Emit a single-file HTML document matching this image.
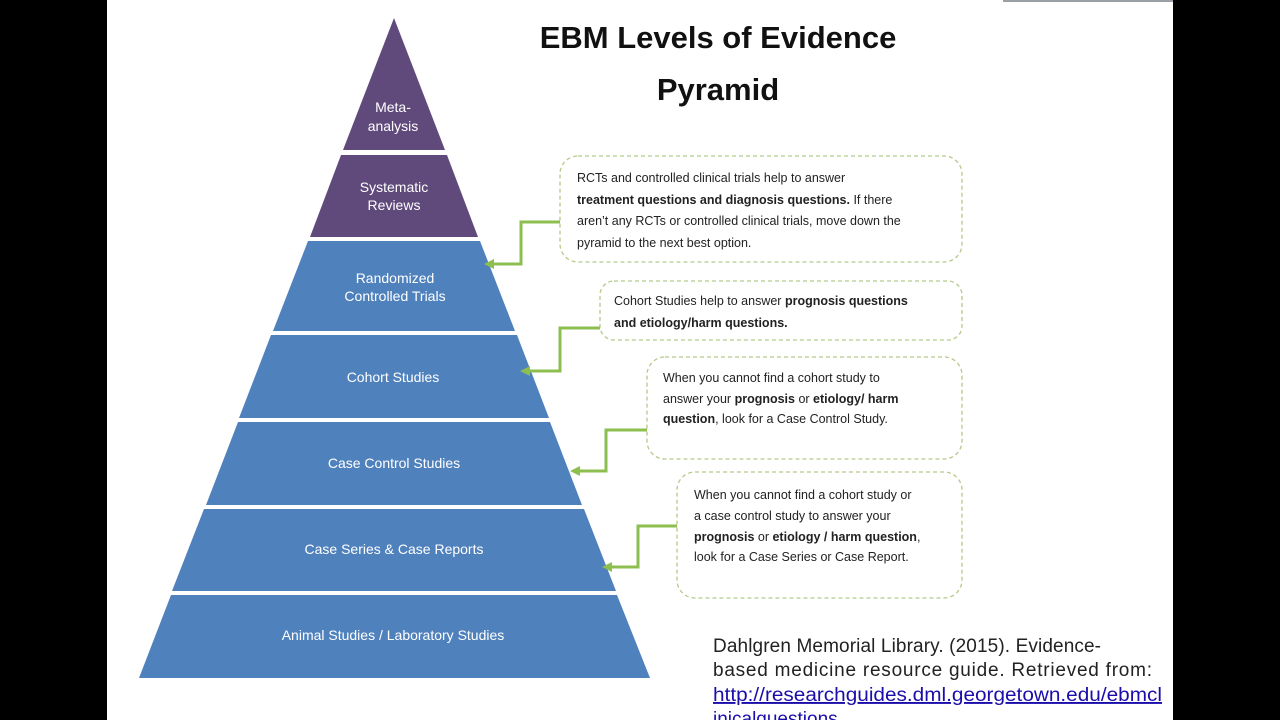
<!DOCTYPE html>
<html><head><meta charset="utf-8"><style>
body{margin:0;background:#000;}
svg{display:block;}
</style></head><body>
<svg width="1280" height="720" xmlns="http://www.w3.org/2000/svg" font-family="'Liberation Sans',sans-serif">
<rect x="0" y="0" width="1280" height="720" fill="#000"/>
<rect x="107" y="0" width="1066" height="720" fill="#fff"/>
<rect x="1003" y="0" width="170" height="2" fill="#9aa0a6"/>
<text x="718" y="48" font-size="31" font-weight="bold" text-anchor="middle" fill="#111">EBM Levels of Evidence</text>
<text x="718" y="100" font-size="31" font-weight="bold" text-anchor="middle" fill="#111">Pyramid</text>
<g>
<polygon points="394,18 445,150 343,150" fill="#604a7b"/>
<polygon points="341,155 447,155 478,237 310,237" fill="#604a7b"/>
<polygon points="308,241 480,241 515,331 273,331" fill="#4f81bd"/>
<polygon points="271,335 517,335 549,418 239,418" fill="#4f81bd"/>
<polygon points="238,422 550,422 582,505 206,505" fill="#4f81bd"/>
<polygon points="204,509 584,509 616,591 172,591" fill="#4f81bd"/>
<polygon points="171,595 617,595 650,678 139,678" fill="#4f81bd"/>
</g>
<g fill="#fff" font-size="14" text-anchor="middle">
<text x="393" y="112">Meta-</text><text x="393" y="131">analysis</text>
<text x="394" y="192">Systematic</text><text x="394" y="210">Reviews</text>
<text x="395" y="283">Randomized</text><text x="395" y="301">Controlled Trials</text>
<text x="393" y="382">Cohort Studies</text>
<text x="394" y="468">Case Control Studies</text>
<text x="394" y="554">Case Series &amp; Case Reports</text>
<text x="393" y="640">Animal Studies / Laboratory Studies</text>
</g>
<g fill="none" stroke="#b5c98a" stroke-width="1.3" stroke-dasharray="4,3">
<rect x="560" y="156" width="402" height="106" rx="18"/>
<rect x="600" y="281" width="362" height="59" rx="14"/>
<rect x="647" y="357" width="315" height="102" rx="18"/>
<rect x="677" y="472" width="285" height="126" rx="18"/>
</g>
<g fill="none" stroke="#8cbf4f" stroke-width="3">
<polyline points="560,222 521,222 521,264 492,264"/>
<polyline points="600,328 560,328 560,371 528,371"/>
<polyline points="647,430 606,430 606,471 578,471"/>
<polyline points="677,526 638,526 638,567 610,567"/>
</g>
<g fill="#8cbf4f">
<polygon points="484,264 494,259 494,269"/>
<polygon points="520,371 530,366 530,376"/>
<polygon points="570,471 580,466 580,476"/>
<polygon points="602,567 612,562 612,572"/>
</g>
<g font-size="12.5" fill="#222">
<text x="577" y="182">RCTs and controlled clinical trials help to answer</text>
<text x="577" y="204"><tspan font-weight="bold">treatment questions and diagnosis  questions.</tspan>  If there</text>
<text x="577" y="225">aren’t any RCTs or controlled clinical trials, move down the</text>
<text x="577" y="247">pyramid to the next best option.</text>
<text x="614" y="305">Cohort Studies help to answer <tspan font-weight="bold">prognosis questions</tspan></text>
<text x="614" y="327" font-weight="bold">and etiology/harm questions.</text>
<text x="663" y="382">When you cannot find a cohort study to</text>
<text x="663" y="403">answer your <tspan font-weight="bold">prognosis</tspan>  or <tspan font-weight="bold">etiology/ harm</tspan></text>
<text x="663" y="423"><tspan font-weight="bold">question</tspan>, look for a Case  Control Study.</text>
<text x="694" y="499">When you cannot find a cohort study or</text>
<text x="694" y="520">a case control study to answer your</text>
<text x="694" y="541"><tspan font-weight="bold">prognosis</tspan>  or <tspan font-weight="bold">etiology / harm question</tspan>,</text>
<text x="694" y="561">look for a Case Series or Case Report.</text>
</g>
<g font-size="19" fill="#222">
<text x="713" y="652" textLength="388" lengthAdjust="spacing">Dahlgren Memorial Library. (2015). Evidence-</text>
<text x="713" y="676" textLength="439" lengthAdjust="spacing">based medicine resource guide. Retrieved from:</text>
<text x="713" y="701" fill="#1a0dab" text-decoration="underline" textLength="449" lengthAdjust="spacingAndGlyphs">http://researchguides.dml.georgetown.edu/ebmcl</text>
<text x="713" y="725" fill="#1a0dab" text-decoration="underline">inicalquestions</text>
</g>
</svg>
</body></html>
